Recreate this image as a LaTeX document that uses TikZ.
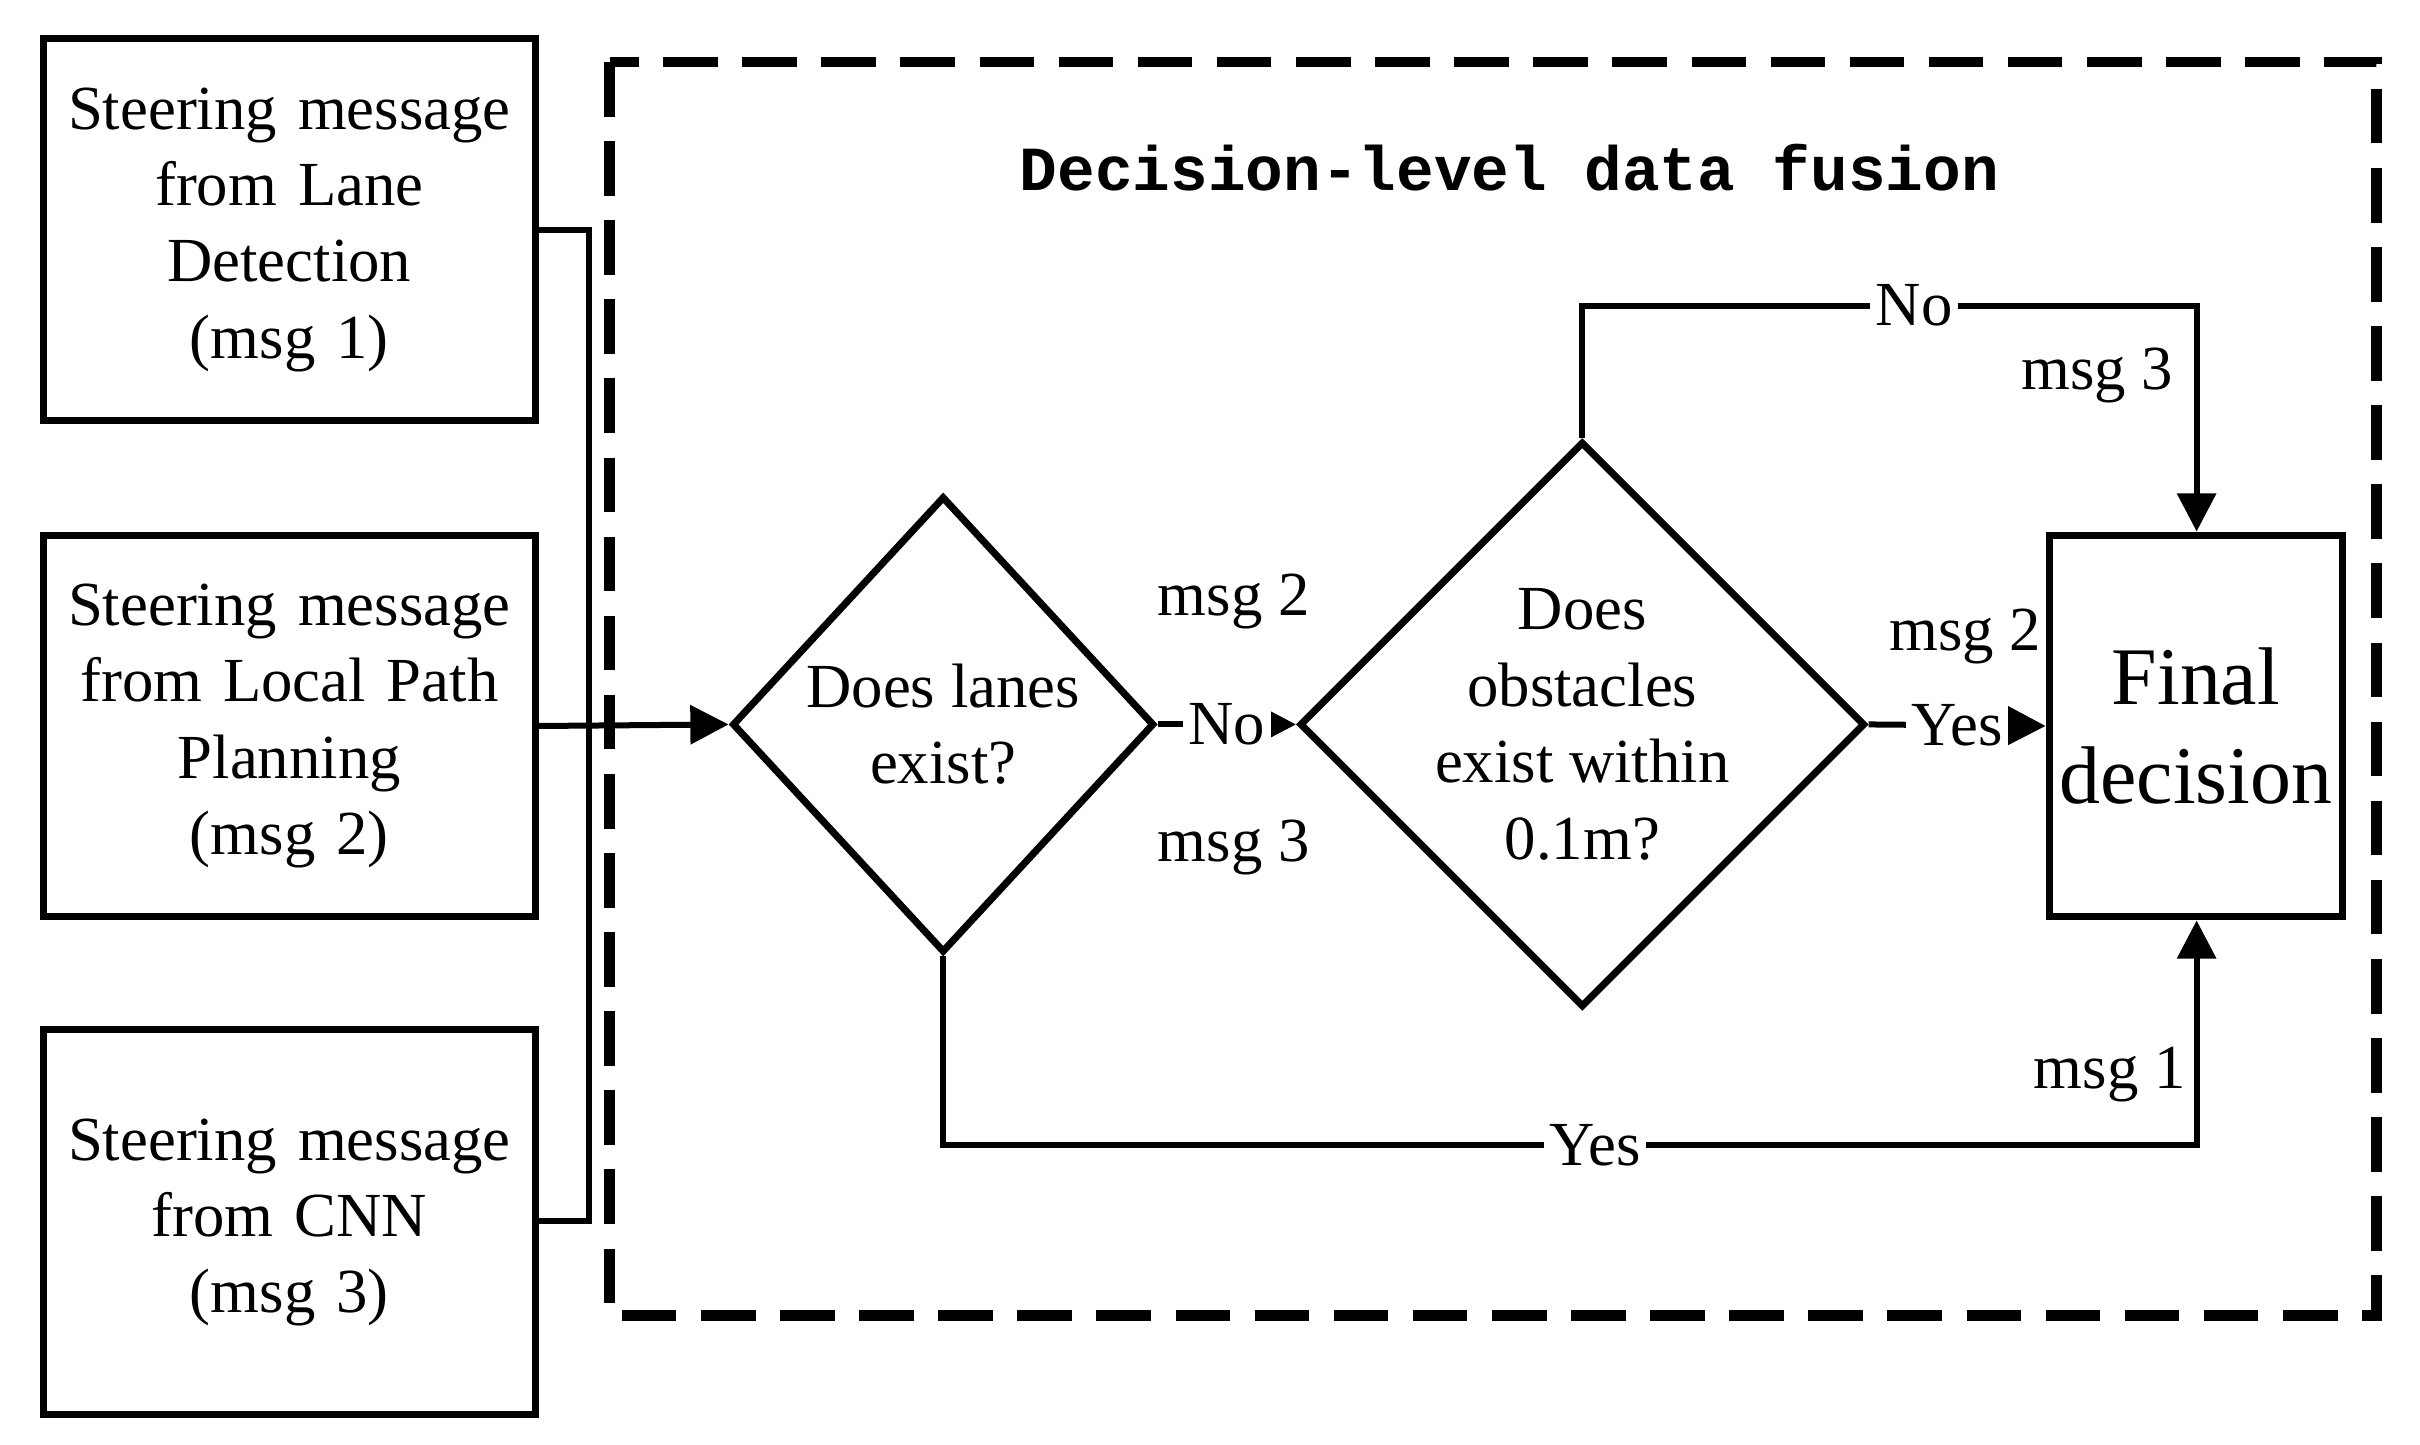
\documentclass[tikz,border=0pt]{standalone}
\usepackage{fontspec}
\setmainfont{Liberation Serif}
\newfontfamily\monof{Liberation Mono}
\usetikzlibrary{arrows.meta,shapes.geometric}
\begin{document}
\begin{tikzpicture}[x=0.01cm,y=-0.01cm,
  ln/.style={line width=1.1pt},
  arr/.style={ln,-{Triangle[length=7pt,width=7pt]}},
  box/.style={draw,line width=1.3pt,align=center,font=\fontsize{11.5}{14}\selectfont,inner sep=0pt},
  dia/.style={draw,line width=1.3pt,diamond,align=center,font=\fontsize{11.5}{14}\selectfont,inner sep=0pt},
  lab/.style={font=\fontsize{11.5}{14}\selectfont,inner sep=1pt},
  wl/.style={lab,fill=white}]
\useasboundingbox (0,0) rectangle (1560,931);
\draw[line width=1.9pt,dash pattern=on 10pt off 4.5pt] (393,40) rectangle (1532,848);
\node[font=\monof\bfseries\fontsize{11.5}{14}\selectfont] (title) at (973,108) {Decision-level data fusion};
\node[box,minimum width=317\pgflinewidth,text width=2.9cm,minimum width=3.17cm,minimum height=2.46cm] (b1) at (186.5,148) {Steering message\\from Lane\\Detection\\(msg 1)};
\node[box,text width=2.9cm,minimum width=3.17cm,minimum height=2.46cm] (b2) at (186.5,468) {Steering message\\from Local Path\\Planning\\(msg 2)};
\node[box,text width=2.9cm,minimum width=3.17cm,minimum height=2.48cm] (b3) at (186.5,788) {Steering message\\from CNN\\(msg 3)};
\node[dia,minimum width=2.72cm,minimum height=2.94cm] (d1) at (608,467) {Does lanes\\exist?};
\node[dia,minimum width=3.14cm,minimum height=2.94cm] (d2) at (1020,467) {Does\\obstacles\\exist within\\0.1m?};
\node[box,minimum width=1.89cm,minimum height=2.46cm,font=\fontsize{15}{18}\selectfont] (fd) at (1415.5,468) {Final\\decision};
\coordinate (bt) at (380,148);
\coordinate (bb) at (380,787);
\draw[ln] (b1.east |- bt) -- (bt) -- (bb) -- (b3.east |- bb);
\draw[arr] (b2.east) -- (d1.west);
\draw[arr] (d1.east) -- node[wl]{No} node[lab,pos=0.55,above=16pt]{msg 2} node[lab,pos=0.55,below=16pt]{msg 3} (d2.west);
\draw[arr] (d2.east) -- node[wl]{Yes} (fd.west);
\node[lab] (m2b) at (1267,410) {msg 2};
\coordinate (t1) at (1020,197);
\coordinate (t2) at (1416,197);
\draw[arr] (d2.north) -- (t1) -- node[wl,pos=0.54]{No} (t2) -- (t2 |- fd.north);
\node[lab] (m3b) at (1352,242) {msg 3};
\coordinate (u1) at (608,738);
\coordinate (u2) at (1416,738);
\draw[arr] (d1.south) -- (u1) -- node[wl,pos=0.52]{Yes} (u2) -- (u2 |- fd.south);
\node[lab] (m1) at (1360,693) {msg 1};
\end{tikzpicture}
\end{document}
